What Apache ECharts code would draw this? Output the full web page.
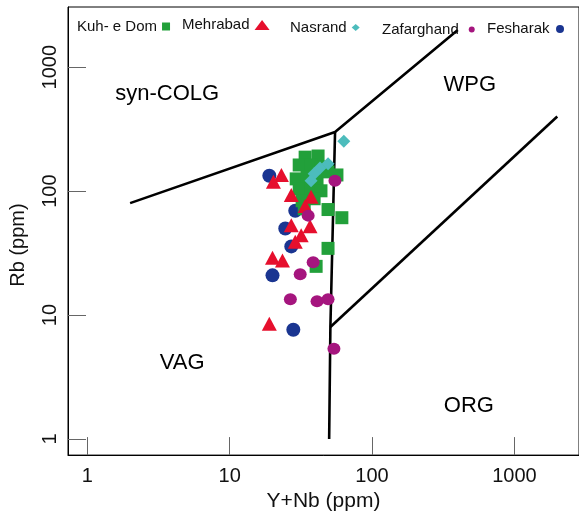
<!DOCTYPE html>
<html><head><meta charset="utf-8">
<script src="https://cdn.jsdelivr.net/npm/echarts@6/dist/echarts.min.js"></script>
<style>html,body{margin:0;padding:0;background:#fff}#c{width:579px;height:517px}</style>
</head><body><div id="c"></div>
<script>
// ---- data ----
const seriesNames = ['Kuh- e Dom', 'Mehrabad', 'Nasrand', 'Zafarghand', 'Fesharak'];
const kuhEDom = [[33.9,188],[41.8,192],[30.8,162.5],[37.3,162.5],[43.8,156.6],[29.35,125.5],[35.0,130],[41.1,125.5],[30.8,104.3],[37.3,104.3],[43.8,100.6],[32.3,83.6],[39.2,86.8],[33.4,72],[49.1,143],[56.7,135],[49.1,71],[61.4,61],[49.1,34.5],[40.5,24.7]];
const mehrabad = [[23.1,135],[20.3,119],[27.1,93],[37.3,90],[33.9,76],[36.7,52],[27.1,53],[31.8,44],[28.9,39],[20.0,29],[23.5,27.6],[19.0,8.5]];
const nasrand = [[63.4,253],[49.1,166],[43.1,154],[39.2,138],[37.3,121]];
const zafarghand = [[54.9,121],[35.6,63.4],[38.6,26.6],[31.3,21.3],[26.7,13.4],[41.1,12.9],[49.1,13.4],[54.0,5.34]];
const fesharak = [[19.0,133],[28.9,69.5],[24.6,49.9],[27.1,35.8],[20.0,20.9],[28.0,7.6]];
const tickValues = [1, 10, 100, 1000];
const tickLabels = ['1', '10', '100', '1000'];
const regionNames = ['syn-COLG', 'WPG', 'VAG', 'ORG'];
const regionPos = [[3.64,603],[486,725],[4.64,4.12],[479,1.86]];
const colgBoundary = [[2,80],[55,300],[400,2000]];
const vagOrgBoundary = [[50,1],[51,8],[55,300]];
const wpgOrgBoundary = [[51,8],[2000,400]];
const xTitle = 'Y+Nb (ppm)';
const yTitle = 'Rb (ppm)';

// ---- styles ----
const FONT = '"Liberation Sans", Arial, Helvetica, sans-serif';
const colors = {'Kuh- e Dom':'#22a03a','Mehrabad':'#e60f2d','Nasrand':'#4cbcbc','Zafarghand':'#a5157e','Fesharak':'#1a3591'};
const symbols = {'Kuh- e Dom':'rect','Mehrabad':'triangle','Nasrand':'diamond','Zafarghand':'circle','Fesharak':'circle'};
const sizes = {'Kuh- e Dom':13,'Mehrabad':[15,14],'Nasrand':13,'Zafarghand':[13,12],'Fesharak':14};
const dataMap = {'Kuh- e Dom':kuhEDom,'Mehrabad':mehrabad,'Nasrand':nasrand,'Zafarghand':zafarghand,'Fesharak':fesharak};
const legendLayout = {
  'Kuh- e Dom': {left:77, top:19, w:8, h:8},
  'Mehrabad':   {left:182, top:17.5, w:15, h:10},
  'Nasrand':    {left:290, top:20, w:8, h:7},
  'Zafarghand': {left:382, top:22, w:16, h:6},
  'Fesharak':   {left:487, top:21.5, w:11, h:8}
};
const drawOrder = ['Fesharak','Kuh- e Dom','Mehrabad','Nasrand','Zafarghand'];

const chart = echarts.init(document.getElementById('c'), null, {renderer:'canvas'});
const lbl = v => { const i = tickValues.indexOf(Math.round(v)); return i >= 0 ? tickLabels[i] : ''; };

const boundaryStyle = {type:'line', symbol:'none', silent:true, z:1, lineStyle:{color:'#000', width:2.6}, animation:false};
const series = [
  Object.assign({name:'b1', data:colgBoundary}, boundaryStyle),
  Object.assign({name:'b2', data:vagOrgBoundary}, boundaryStyle),
  Object.assign({name:'b3', data:wpgOrgBoundary}, boundaryStyle),
  {type:'scatter', name:'regions', silent:true, symbolSize:1, itemStyle:{color:'#fff', opacity:0},
   data: regionNames.map((n,i)=>({name:n, value:regionPos[i]})),
   label:{show:true, position:'inside', formatter:p=>p.name, color:'#000', opacity:1, textBorderWidth:0, fontSize:22, fontFamily:FONT}, z:1}
];
drawOrder.forEach((n,i)=>{
  series.push({type:'scatter', name:n, data:dataMap[n], symbol:symbols[n], symbolSize:sizes[n],
    itemStyle:{color:colors[n], opacity:1}, z:2+i, animation:false});
});

const legends = seriesNames.map(n=>({
  data:[{name:n, icon:symbols[n]}], left:legendLayout[n].left, top:legendLayout[n].top, padding:0,
  align:'right', itemWidth:legendLayout[n].w, itemHeight:legendLayout[n].h, selectedMode:false,
  textStyle:{fontSize:15, color:'#111', fontFamily:FONT}
}));

chart.setOption({
  animation:false,
  backgroundColor:'#fff',
  textStyle:{fontFamily:FONT},
  legend: legends,
  grid:{left:67, top:7, right:-3, bottom:59, show:true, borderColor:'#000', borderWidth:1, backgroundColor:'transparent'},
  xAxis:{type:'log', logBase:10, min:0.7325, max:2842,
    name:xTitle, nameLocation:'middle', nameGap:26,
    nameTextStyle:{fontSize:21, color:'#111', fontFamily:FONT},
    axisLine:{lineStyle:{color:'#000', width:1}},
    axisTick:{inside:true, length:18, lineStyle:{color:'#666'}, customValues:tickValues},
    axisLabel:{customValues:tickValues, formatter:lbl, fontSize:20, color:'#111', margin:11, fontFamily:FONT},
    splitLine:{show:false}, minorTick:{show:false}},
  yAxis:{type:'log', logBase:10, min:0.740, max:3062,
    name:yTitle, nameLocation:'middle', nameGap:40, nameRotate:90,
    nameTextStyle:{fontSize:20, color:'#111', fontFamily:FONT, padding:[0,28,0,0]},
    axisLine:{lineStyle:{color:'#000', width:1}},
    axisTick:{inside:true, length:18, lineStyle:{color:'#666'}, customValues:tickValues},
    axisLabel:{customValues:tickValues, formatter:lbl, fontSize:20, color:'#111', margin:8, rotate:90, fontFamily:FONT},
    splitLine:{show:false}, minorTick:{show:false}},
  series: series
});
</script></body></html>
